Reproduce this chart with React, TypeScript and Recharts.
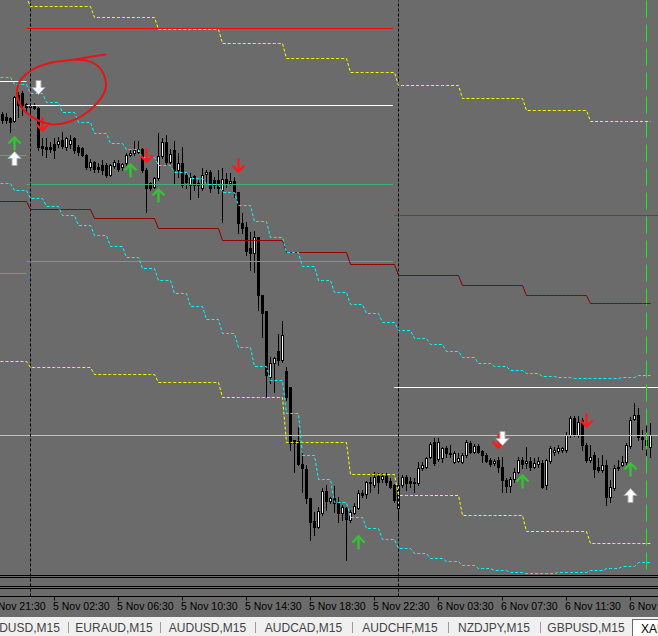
import React from "react";
import { Bar, ComposedChart, Line, ReferenceLine, Scatter, XAxis, YAxis } from "recharts";

// XAUUSD M15 candles, bar 0 = 4 Nov 22:15
const opens = [
  1988.6, 1988.3, 1988.2, 1987.9, 1990.5, 1990.7, 1989.6, 1989.3, 1989.5, 1989.2,
  1985.4, 1985.3, 1985.3, 1985.6, 1985.6, 1986.0, 1985.3, 1985.6, 1986.2, 1985.3,
  1985.2, 1984.5, 1983.3, 1983.8, 1983.3, 1983.5, 1983.5, 1982.5, 1983.4, 1983.7,
  1983.3, 1983.7, 1984.5, 1984.7, 1984.8, 1985.1, 1983.0, 1981.7, 1981.3, 1982.2,
  1984.4, 1985.8, 1983.8, 1985.0, 1983.0, 1983.7, 1982.5, 1981.5, 1982.4, 1981.7,
  1981.2, 1982.6, 1982.8, 1982.0, 1982.0, 1981.0, 1982.1, 1981.7, 1981.9, 1980.8,
  1977.7, 1977.3, 1975.2, 1974.7, 1976.3, 1970.5, 1968.9, 1962.3, 1963.7, 1964.9,
  1964.0, 1962.9, 1961.3, 1956.0, 1955.9, 1953.6, 1953.1, 1950.2, 1947.9, 1947.3,
  1948.7, 1950.9, 1949.9, 1950.2, 1949.8, 1948.7, 1949.2, 1948.0, 1948.7, 1949.2,
  1950.7, 1950.6, 1951.8, 1951.5, 1952.4, 1952.1, 1952.4, 1951.9, 1951.5, 1949.2,
  1951.5, 1952.3, 1951.9, 1951.8, 1951.7, 1953.2, 1953.3, 1954.3, 1955.8, 1954.1,
  1954.2, 1955.2, 1954.7, 1953.8, 1953.9, 1953.8, 1954.5, 1955.7, 1954.8, 1955.4,
  1954.9, 1954.5, 1954.0, 1953.7, 1954.0, 1953.3, 1952.0, 1951.4, 1952.1, 1952.8,
  1954.0, 1953.7, 1953.9, 1953.3, 1953.6, 1953.7, 1951.5, 1953.9, 1954.8, 1954.9,
  1955.0, 1955.0, 1956.5, 1958.2, 1956.5, 1958.0, 1955.5, 1954.0, 1954.5, 1953.3,
  1953.0, 1953.5, 1950.3, 1951.2, 1953.2, 1953.5, 1953.8, 1955.4, 1958.1, 1958.5,
  1956.3, 1956.0, 1955.3,
];
const highs = [
  1988.8, 1988.7, 1988.3, 1990.4, 1990.8, 1990.9, 1989.7, 1989.7, 1989.7, 1989.3,
  1986.2, 1986.2, 1985.8, 1986.2, 1986.3, 1986.8, 1986.3, 1986.5, 1986.3, 1985.5,
  1985.3, 1984.6, 1984.1, 1983.9, 1983.7, 1984.0, 1983.7, 1983.6, 1984.0, 1984.0,
  1983.7, 1984.7, 1985.0, 1985.9, 1985.9, 1985.2, 1983.2, 1981.8, 1982.3, 1986.7,
  1986.2, 1986.5, 1985.1, 1985.9, 1984.7, 1985.3, 1982.7, 1982.7, 1982.5, 1982.0,
  1983.2, 1983.0, 1983.0, 1982.3, 1983.0, 1983.2, 1982.7, 1982.7, 1982.3, 1980.8,
  1978.7, 1977.8, 1976.8, 1976.9, 1976.3, 1970.5, 1968.9, 1964.3, 1964.3, 1966.6,
  1967.9, 1963.3, 1961.3, 1956.0, 1957.3, 1955.0, 1953.5, 1950.2, 1948.8, 1949.3,
  1951.2, 1951.5, 1950.3, 1951.4, 1950.3, 1949.5, 1949.3, 1949.0, 1949.7, 1951.0,
  1951.0, 1951.9, 1952.3, 1952.8, 1952.7, 1952.7, 1952.7, 1952.2, 1951.6, 1952.3,
  1952.5, 1952.5, 1952.3, 1952.2, 1953.8, 1953.8, 1954.3, 1955.8, 1956.2, 1956.2,
  1955.3, 1955.4, 1955.5, 1954.9, 1954.7, 1954.7, 1956.0, 1955.9, 1955.6, 1955.6,
  1955.0, 1954.7, 1954.2, 1954.1, 1954.3, 1954.3, 1952.2, 1952.3, 1953.2, 1954.3,
  1954.3, 1955.3, 1954.3, 1954.2, 1954.3, 1954.0, 1954.1, 1955.4, 1955.3, 1955.5,
  1955.3, 1956.8, 1958.4, 1958.4, 1958.4, 1958.2, 1955.7, 1955.5, 1954.8, 1954.2,
  1954.5, 1954.0, 1952.0, 1953.5, 1954.0, 1954.4, 1955.7, 1958.3, 1959.7, 1959.2,
  1957.0, 1957.5, 1957.7,
];
const lows = [
  1987.7, 1987.7, 1986.8, 1987.8, 1988.3, 1988.5, 1988.8, 1988.7, 1989.1, 1985.0,
  1984.5, 1984.3, 1984.8, 1984.2, 1985.3, 1985.2, 1985.0, 1985.2, 1984.7, 1984.5,
  1984.4, 1983.1, 1983.0, 1982.8, 1982.8, 1982.6, 1982.3, 1982.4, 1983.2, 1982.9,
  1983.0, 1983.5, 1984.4, 1984.5, 1984.7, 1982.8, 1978.8, 1981.0, 1981.2, 1982.0,
  1984.2, 1983.5, 1983.7, 1981.7, 1982.3, 1981.3, 1981.2, 1980.1, 1981.0, 1980.3,
  1981.0, 1981.7, 1980.8, 1981.2, 1980.7, 1977.8, 1981.3, 1981.5, 1980.3, 1976.7,
  1976.7, 1974.5, 1973.0, 1972.8, 1969.0, 1966.3, 1960.3, 1961.7, 1960.8, 1963.5,
  1963.8, 1960.0, 1955.0, 1952.8, 1953.5, 1950.8, 1949.7, 1946.0, 1946.5, 1947.2,
  1948.5, 1949.0, 1949.7, 1948.8, 1947.8, 1948.0, 1944.0, 1947.8, 1948.6, 1949.1,
  1950.3, 1950.2, 1950.8, 1951.3, 1950.7, 1951.8, 1951.5, 1951.2, 1949.8, 1948.2,
  1951.3, 1951.0, 1951.3, 1950.8, 1951.5, 1953.0, 1953.2, 1954.2, 1953.5, 1953.9,
  1953.8, 1954.3, 1954.3, 1953.7, 1953.8, 1953.7, 1954.3, 1954.7, 1954.7, 1954.7,
  1953.8, 1953.8, 1953.4, 1953.5, 1952.8, 1950.8, 1950.8, 1950.8, 1951.8, 1952.7,
  1953.2, 1953.2, 1953.0, 1953.2, 1953.3, 1951.2, 1951.1, 1953.7, 1954.5, 1954.7,
  1954.8, 1954.8, 1956.3, 1956.4, 1956.3, 1955.0, 1953.8, 1953.8, 1952.3, 1952.8,
  1952.8, 1949.5, 1949.8, 1951.0, 1953.0, 1953.4, 1953.6, 1955.2, 1958.0, 1956.0,
  1955.1, 1954.5, 1954.3,
];
const closes = [
  1988.0, 1988.0, 1987.8, 1990.3, 1989.5, 1989.5, 1989.3, 1989.5, 1989.2, 1985.3,
  1985.2, 1985.1, 1985.1, 1985.0, 1985.9, 1985.4, 1986.2, 1986.0, 1985.0, 1984.8,
  1984.5, 1983.3, 1983.8, 1983.1, 1983.1, 1983.0, 1982.5, 1983.5, 1983.8, 1983.1,
  1983.6, 1984.5, 1984.7, 1985.0, 1985.1, 1983.0, 1981.2, 1981.2, 1982.2, 1984.4,
  1985.8, 1983.8, 1984.6, 1983.0, 1983.7, 1981.5, 1981.8, 1982.3, 1981.5, 1981.5,
  1982.5, 1982.8, 1981.2, 1981.5, 1981.2, 1982.1, 1981.6, 1981.9, 1980.8, 1977.7,
  1977.2, 1974.9, 1974.7, 1976.3, 1970.5, 1968.7, 1962.5, 1963.7, 1964.2, 1964.0,
  1966.5, 1960.3, 1955.7, 1955.7, 1953.6, 1953.2, 1950.2, 1947.8, 1947.3, 1948.9,
  1950.9, 1949.9, 1950.2, 1949.7, 1948.7, 1949.3, 1948.1, 1948.8, 1949.4, 1950.7,
  1950.5, 1951.8, 1951.7, 1952.3, 1951.8, 1952.4, 1951.8, 1951.3, 1950.0, 1951.5,
  1952.3, 1951.7, 1951.7, 1951.7, 1953.2, 1953.5, 1954.2, 1955.6, 1953.7, 1955.8,
  1955.2, 1954.7, 1954.6, 1954.7, 1954.2, 1954.5, 1955.8, 1954.8, 1955.4, 1954.8,
  1954.5, 1953.9, 1953.6, 1953.9, 1953.3, 1952.0, 1951.4, 1952.1, 1952.8, 1954.0,
  1953.6, 1953.9, 1953.3, 1953.7, 1953.9, 1951.3, 1954.0, 1955.2, 1955.0, 1955.2,
  1955.2, 1956.5, 1958.2, 1956.6, 1957.8, 1955.5, 1954.0, 1954.3, 1953.1, 1953.0,
  1953.5, 1950.3, 1951.3, 1953.2, 1953.3, 1953.8, 1955.5, 1958.0, 1958.5, 1956.3,
  1956.1, 1955.5, 1956.5,
];

// 4-hour step levels, a new level begins at each of these bars
const bandStarts = [7, 23, 39, 55, 71, 87, 99, 115, 131, 147];
const yellowUpper = [2000.3, 1999.4, 1998.3, 1997.1, 1995.7, 1994.2, 1992.8, 1991.5, 1990.2, 1989.0, 1987.9];
const darkRedMid = [1979.9, 1979.1, 1978.2, 1977.2, 1976.0, 1974.8, 1973.6, 1972.5, 1971.5, 1970.5, 1969.7];
const yellowLower = [1963.9, 1963.3, 1962.6, 1961.8, 1960.3, 1955.8, 1952.6, 1950.5, 1948.5, 1946.9, 1945.7];

// hourly step levels (4 bars each, first change at bar 3)
const cyanUpper = [
  1992.3, 1991.6, 1990.7, 1989.8, 1988.8, 1987.8, 1986.7, 1985.7, 1985.1, 1984.3,
  1983.5, 1982.8, 1982.2, 1981.6, 1980.8, 1979.5, 1977.9, 1976.3, 1974.8, 1973.4,
  1972.0, 1970.8, 1969.6, 1968.7, 1967.8, 1967.0, 1966.2, 1965.6, 1964.9, 1964.3,
  1963.7, 1963.4, 1963.0, 1962.7, 1962.4, 1962.3, 1962.2, 1962.2, 1962.2, 1962.3,
  1962.5,
];
const cyanLower = [
  1981.7, 1981.0, 1980.2, 1979.4, 1978.5, 1977.5, 1976.5, 1975.4, 1974.3, 1973.2,
  1972.0, 1970.7, 1969.4, 1968.1, 1966.7, 1965.3, 1963.4, 1962.0, 1958.7, 1954.5,
  1952.1, 1949.8, 1948.3, 1947.2, 1946.1, 1945.2, 1944.7, 1944.2, 1943.9, 1943.5,
  1943.2, 1943.0, 1942.8, 1942.7, 1942.7, 1942.8, 1942.8, 1943.0, 1943.2, 1943.4,
  1943.8,
];

// signal arrows: bar and price of the arrow tip
const greenUp = [
  { k: 3, p: 1986.4 }, { k: 32, p: 1983.7 }, { k: 39, p: 1981.2 },
  { k: 89, p: 1946.5 }, { k: 130, p: 1952.6 }, { k: 157, p: 1953.8 },
];
const whiteUp = [{ k: 3, p: 1984.9 }, { k: 157, p: 1951.2 }];
const whiteDown = [{ k: 9, p: 1990.6 }, { k: 125, p: 1955.5 }];
const redDown = [
  { k: 10, p: 1986.9 }, { k: 36, p: 1983.8 }, { k: 59, p: 1982.8 },
  { k: 124, p: 1955.2 }, { k: 146, p: 1957.3 },
];

// hand-drawn red loop
const loopK = [25.9, 22.4, 18.1, 13.9, 10.4, 7.1, 4.6, 3.6, 4.1, 5.9, 8.9, 12.4, 16.1, 19.6, 22.6, 24.9, 25.9, 25.1, 23.4, 20.9, 17.9];
const loopP = [1994.6, 1994.4, 1994.1, 1993.9, 1993.6, 1993.0, 1992.1, 1991.0, 1989.8, 1988.8, 1988.0, 1987.6, 1987.8, 1988.4, 1989.3, 1990.4, 1991.6, 1992.8, 1993.6, 1994.0, 1994.1];

const timeTicks = [-3, 13, 29, 45, 61, 77, 93, 109, 125, 141, 157];
const timeLabels = [
  "4 Nov 21:30", "5 Nov 02:30", "5 Nov 06:30", "5 Nov 10:30", "5 Nov 14:30", "5 Nov 18:30",
  "5 Nov 22:30", "6 Nov 03:30", "6 Nov 07:30", "6 Nov 11:30", "6 Nov 15:30",
];

const tabNames = ["NZDUSD,M15", "EURAUD,M15", "AUDUSD,M15", "AUDCAD,M15", "AUDCHF,M15", "NZDJPY,M15", "GBPUSD,M15"];
const tabEdges = [-25, 68, 160, 255, 352, 448, 540, 632];
const activeTab = "XAUUSD,M15";

const FIRST_SLOT = -3;
const LAST_SLOT = 164;
const lastBar = opens.length - 1;
const bandIndex = (k: number) => bandStarts.filter((s) => s <= k).length;
const cyanIndex = (k: number) => (k < 3 ? 0 : Math.floor((k - 3) / 4) + 1);

const rows: any[] = [];
for (let k = FIRST_SLOT; k <= LAST_SLOT; k++) {
  const has = k >= 0 && k <= lastBar;
  const drawn = k <= lastBar;
  rows.push({
    k,
    range: has ? [lows[k], highs[k]] : null,
    open: has ? opens[k] : null,
    high: has ? highs[k] : null,
    low: has ? lows[k] : null,
    close: has ? closes[k] : null,
    yu: drawn ? yellowUpper[bandIndex(k)] : null,
    dr: drawn ? darkRedMid[bandIndex(k)] : null,
    yl: drawn ? yellowLower[bandIndex(k)] : null,
    cu: drawn ? cyanUpper[cyanIndex(k)] : null,
    cl: drawn ? cyanLower[cyanIndex(k)] : null,
  });
}
const loop = loopK.map((k, i) => ({ k, p: loopP[i] }));

function Candle(props: any) {
  const { x, y, width, height, payload } = props;
  if (!payload || payload.open == null) return null;
  const { open, high, low, close } = payload;
  const cx = Math.floor(x + width / 2) + 0.5;
  const span = high - low || 1;
  const at = (p: number) => Math.round(y + ((high - p) / span) * height - 0.5);
  const top = at(Math.max(open, close));
  const bottom = at(Math.min(open, close));
  const hi = at(high);
  const lo = at(low);
  return (
    <g>
      <rect x={cx - 0.5} y={hi} width={1} height={lo - hi + 1} fill="#000" />
      <rect x={cx - 1.5} y={top} width={3} height={bottom - top + 1} fill="#000" />
      {close > open && bottom - top >= 2 && (
        <rect x={cx - 0.5} y={top + 1} width={1} height={bottom - top - 1} fill="#fff" />
      )}
    </g>
  );
}

const thinArrow = (color: string, down: boolean) => (props: any) => {
  const { cx, cy } = props;
  const s = down ? -1 : 1;
  return (
    <g>
      <path
        d={`M${cx - 6},${cy + 7 * s} L${cx},${cy + s} L${cx + 6},${cy + 7 * s}`}
        fill="none"
        stroke={color}
        strokeWidth={2.4}
      />
      <line x1={cx} y1={cy + s} x2={cx} y2={cy + 14 * s} stroke={color} strokeWidth={2.4} />
    </g>
  );
};

const blockArrow = (down: boolean) => (props: any) => {
  const { cx, cy } = props;
  const s = down ? -1 : 1;
  const d = `M${cx},${cy} L${cx + 6.5},${cy + 7 * s} L${cx + 2.5},${cy + 7 * s} L${cx + 2.5},${cy + 14 * s} L${cx - 2.5},${cy + 14 * s} L${cx - 2.5},${cy + 7 * s} L${cx - 6.5},${cy + 7 * s} Z`;
  return <path d={d} fill="#fff" stroke="#a8a8a8" strokeWidth={1} />;
};

const TimeTick = (props: any) => {
  const { x, y, payload } = props;
  const i = timeTicks.indexOf(payload.value);
  return (
    <text x={x - 1.5} y={y + 7} fontSize={10.5} fontFamily="'Liberation Sans', Arial, sans-serif" fill="#000" textAnchor="start">
      {timeLabels[i]}
    </text>
  );
};

const seg = (from: number, to: number, p: number) => [
  { x: from, y: p },
  { x: to, y: p },
];

const stepLine = { dot: false, activeDot: false, isAnimationActive: false, strokeWidth: 1, xAxisId: "cat", connectNulls: false } as any;

const tabFont = { fontFamily: "'Liberation Sans', Arial, sans-serif", fontSize: 12, whiteSpace: "nowrap" } as const;

export default function App() {
  return (
    <div style={{ position: "absolute", left: 0, top: 0, width: 658, height: 636, overflow: "hidden", background: "#6b6b6b" }}>
      <div style={{ position: "absolute", left: -12, top: 0 }}>
        <ComposedChart width={674} height={617} data={rows} margin={{ top: 0.5, right: 1.5, bottom: 0, left: 0.5 }}>
          <XAxis
            xAxisId="cat"
            dataKey="k"
            type="category"
            ticks={timeTicks}
            interval={0}
            tick={TimeTick}
            tickSize={4}
            tickLine={{ stroke: "#000" }}
            axisLine={{ stroke: "#000" }}
            height={20.5}
          />
          <XAxis xAxisId="num" dataKey="k" type="number" domain={[-3.5, 164.5]} allowDataOverflow hide />
          <YAxis hide type="number" domain={[1940.4, 2000]} allowDataOverflow />

          <ReferenceLine xAxisId="num" segment={seg(-3.5, 6, 1991.9)} stroke="#ffffff" />
          <ReferenceLine xAxisId="num" segment={seg(-3.5, 6, 1984.5)} stroke="#3cb371" />
          <ReferenceLine xAxisId="num" segment={seg(-3.5, 6, 1972.7)} stroke="#32cd32" />
          <ReferenceLine xAxisId="num" segment={seg(6, 97.6, 1997.2)} stroke="#ff0000" />
          <ReferenceLine xAxisId="num" segment={seg(6, 97.6, 1989.5)} stroke="#ffffff" />
          <ReferenceLine xAxisId="num" segment={seg(6, 97.6, 1981.6)} stroke="#3cb371" />
          <ReferenceLine xAxisId="num" segment={seg(6, 97.6, 1973.9)} stroke="#32cd32" />
          <ReferenceLine xAxisId="num" segment={seg(97.9, 164.5, 1978.5)} stroke="#ff0000" />
          <ReferenceLine xAxisId="num" segment={seg(97.9, 164.5, 1961.3)} stroke="#ffffff" />
          <ReferenceLine xAxisId="num" y={1956.5} stroke="#c0c0c0" />

          <ReferenceLine xAxisId="num" y={1942.5} stroke="#000" />
          <ReferenceLine xAxisId="num" y={1942.3} stroke="#000" />
          <ReferenceLine xAxisId="num" y={1941.4} stroke="#000" />
          <ReferenceLine xAxisId="num" y={1941.2} stroke="#000" />
          <ReferenceLine xAxisId="num" x={7} stroke="#000" strokeDasharray="3 2" />
          <ReferenceLine xAxisId="num" x={99} stroke="#000" strokeDasharray="3 2" />
          <ReferenceLine
            xAxisId="num"
            segment={[{ x: 161, y: 2000 }, { x: 161, y: 1943 }]}
            stroke="#00ff00"
            strokeDasharray="17 7"
          />

          <Line {...stepLine} dataKey="yu" stroke="#ffff00" strokeDasharray="3 2" />
          <Line {...stepLine} dataKey="yl" stroke="#ffff00" strokeDasharray="3 2" />
          <Line {...stepLine} dataKey="dr" stroke="#8b0000" />
          <Line {...stepLine} dataKey="cu" stroke="#00ffff" strokeDasharray="3 2" />
          <Line {...stepLine} dataKey="cl" stroke="#00ffff" strokeDasharray="3 2" />

          <Bar xAxisId="cat" dataKey="range" shape={Candle} isAnimationActive={false} />

          <Scatter xAxisId="num" data={greenUp} dataKey="p" shape={thinArrow("#33c433", false)} isAnimationActive={false} />
          <Scatter xAxisId="num" data={redDown} dataKey="p" shape={thinArrow("#ff1a1a", true)} isAnimationActive={false} />
          <Scatter xAxisId="num" data={whiteUp} dataKey="p" shape={blockArrow(false)} isAnimationActive={false} />
          <Scatter xAxisId="num" data={whiteDown} dataKey="p" shape={blockArrow(true)} isAnimationActive={false} />
          <Scatter
            xAxisId="num"
            data={loop}
            dataKey="p"
            line={{ stroke: "#e81414", strokeWidth: 2 }}
            lineJointType="natural"
            shape={() => <g />}
            isAnimationActive={false}
          />
        </ComposedChart>
      </div>

      <div style={{ position: "absolute", left: 0, top: 617, width: 658, height: 19, background: "#f0f0f0" }}>
        {tabNames.map((name, i) => (
          <div
            key={name}
            style={{
              ...tabFont,
              position: "absolute",
              left: tabEdges[i],
              width: tabEdges[i + 1] - tabEdges[i],
              top: 2,
              height: 17,
              lineHeight: "18px",
              textAlign: "center",
              color: "#444",
            }}
          >
            {name}
          </div>
        ))}
        {tabEdges.slice(1, 7).map((x) => (
          <div key={x} style={{ position: "absolute", left: x, top: 5, width: 1, height: 11, background: "#9a9a9a" }} />
        ))}
        <div
          style={{
            ...tabFont,
            position: "absolute",
            left: 632,
            top: 2,
            width: 70,
            height: 17,
            background: "#fff",
            borderLeft: "1px solid #6a6a6a",
            borderTop: "1px solid #6a6a6a",
            lineHeight: "18px",
            paddingLeft: 8,
            color: "#000",
          }}
        >
          {activeTab}
        </div>
      </div>
    </div>
  );
}
